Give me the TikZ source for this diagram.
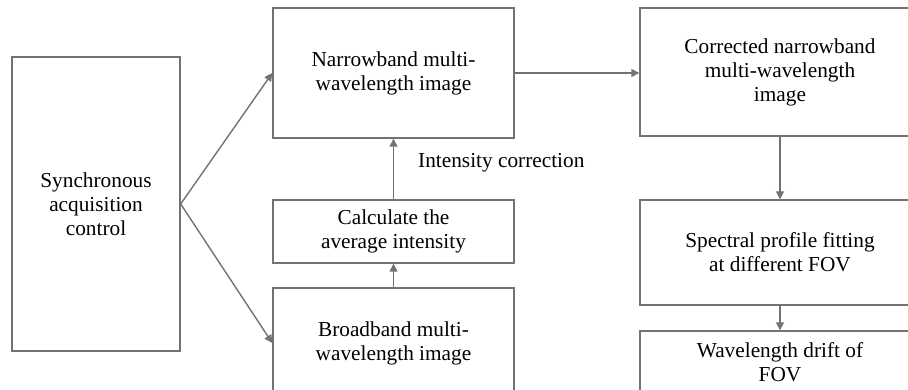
\documentclass[tikz,border=0pt]{standalone}
\usepackage{fontspec}
\setmainfont{Liberation Serif}
\usetikzlibrary{arrows.meta}
\definecolor{edgegray}{HTML}{737373}
\begin{document}
\begin{tikzpicture}[x=1pt,y=-1pt,
  box/.style={draw=edgegray, line width=1.4pt, align=center, inner sep=0pt,
    font=\fontsize{21.3}{24}\selectfont},
  flow/.style={draw=edgegray, line width=1.4pt, -{Triangle[length=8pt,width=8pt]}},
  lbl/.style={inner sep=0pt, font=\fontsize{21.3}{24}\selectfont}]
\useasboundingbox (0,0) rectangle (908,390);
\clip (0,0) rectangle (908,390);
\fill[white] (0,0) rectangle (908,390);

% left column
\node[box, minimum width=168pt, minimum height=294pt] (sync) at (96,204)
  {Synchronous\\acquisition\\control};

% middle column
\node[box, minimum width=241pt, minimum height=130pt] (narrow) at (393.5,73)
  {Narrowband multi-\\wavelength image};
\node[box, minimum width=241pt, minimum height=63pt] (calc) at (393.5,231.5)
  {Calculate the\\average intensity};
\node[box, minimum width=241pt, minimum height=110pt] (broad) at (393.5,343)
  {Broadband multi-\\wavelength image};

% right column
\node[box, minimum width=280pt, minimum height=128pt] (corr) at (780,72)
  {Corrected narrowband\\multi-wavelength\\image};
\node[box, minimum width=280pt, minimum height=105pt] (spec) at (780,252.5)
  {Spectral profile fitting\\at different FOV};
\node[box, minimum width=280pt, minimum height=62pt] (drift) at (780,362)
  {Wavelength drift of\\FOV};

\node[lbl, anchor=west] (intlbl) at (418,163) {Intensity correction};

% connectors
\draw[flow] (sync.east) -- (narrow.west);
\draw[flow] (sync.east) -- (broad.west);
\draw[flow] (broad.north) -- (calc.south);
\draw[flow] (calc.north) -- (narrow.south);
\draw[flow] (narrow.east) -- (corr.west |- narrow.east);
\draw[flow] (corr.south) -- (spec.north);
\draw[flow] (spec.south) -- (drift.north);
\end{tikzpicture}
\end{document}
